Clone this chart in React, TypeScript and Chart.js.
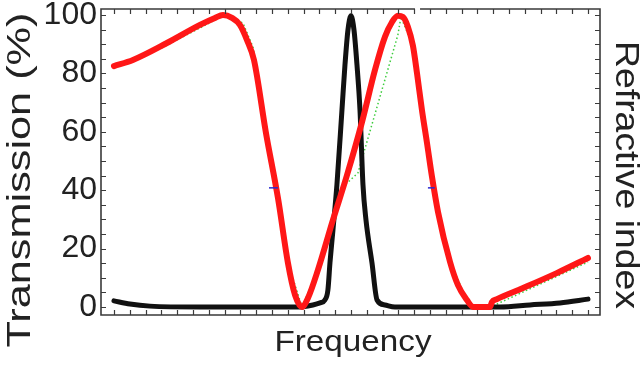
import React, { useEffect, useRef } from "react";
import { Chart, registerables } from "chart.js";
Chart.register(...registerables);

// Transmission (black)
const transX = [0, 1.01, 2.28, 5.44, 11.77, 12.59, 13.04, 13.35, 13.54, 13.67, 13.86, 14.11, 14.43, 14.62, 14.81, 15.0, 15.19, 15.38, 15.57, 15.76, 15.95, 16.33, 16.65, 17.15, 17.78, 24.43, 26.33, 28.23, 30.0];
const transY = [2.1, 1.0, 0.3, 0, 0, 0.7, 1.4, 2.4, 5.8, 15.1, 26.4, 41.8, 67.5, 82.9, 94.9, 99.7, 94.9, 82.9, 67.5, 41.8, 29.8, 15.1, 2.4, 0.7, 0, 0, 0.7, 1.4, 2.7];

// Refractive index (red)
const indexX = [0, 1.2, 3.35, 5.44, 6.39, 6.9, 7.47, 7.97, 8.42, 8.86, 9.62, 10.38, 11.01, 11.46, 11.9, 12.28, 12.91, 13.86, 14.75, 15.7, 16.52, 17.15, 17.6, 17.97, 18.29, 18.6, 18.92, 19.18, 19.49, 19.81, 20.13, 20.51, 21.27, 21.77, 22.34, 22.72, 23.8, 23.92, 24.24, 25.89, 28.02, 30.0];
const indexY = [82.5, 84.6, 90.4, 96.6, 99.0, 100, 99.0, 96.6, 91.4, 84.6, 59.6, 37.3, 15.1, 4.1, 0, 3.1, 12.7, 29.8, 45.2, 63.4, 81.2, 92.5, 97.6, 99.7, 99.3, 96.0, 89.5, 80.0, 67.5, 56.2, 44.5, 32.5, 15.4, 7.5, 2.4, 0, 0, 1.7, 2.7, 6.5, 11.6, 16.8];

// Coarse guide (green dotted)
const guideX = [0, 2.91, 6.9, 8.16, 8.8, 9.62, 10.38, 11.01, 11.9, 12.91, 13.86, 14.62, 15.44, 17.97, 18.16, 18.92, 20.13, 20.51, 21.27, 22.34, 22.72, 24.11, 30.0];
const guideY = [81.8, 88.4, 99.7, 97.3, 89.0, 59.6, 37.3, 15.1, 0, 12.7, 29.8, 41.8, 45.9, 93.2, 99.3, 89.5, 44.5, 32.5, 15.4, 2.4, 0, 0.7, 15.4];

// Small blue markers
const markerAX = [9.81, 10.38];
const markerBX = [19.87, 20.3];
const markerY = [40.8, 40.8];

const yTickLabels = [0, 20, 40, 60, 80, 100];
const yMinorTicks = [0, 5, 10, 15, 20, 25, 30, 35, 40, 45, 50, 55, 60, 65, 70, 75, 80, 85, 90, 95, 100];
const xMinorTicks = [0, 1, 2, 3, 4, 5, 6, 7, 8, 9, 10, 11, 12, 13, 14, 15, 16, 17, 18, 19, 20, 21, 22, 23, 24, 25, 26, 27, 28, 29, 30];
// small break visible in the top border of the original
const topGap = [19.05, 19.37];

const xTitle = "Frequency";
const yTitle = "Transmission (%)";
const y2Title = "Refractive index";

const FONT = "'Liberation Sans', Arial, Helvetica, sans-serif";

const pts = (xs: number[], ys: number[]) => xs.map((x, i) => ({ x, y: ys[i] }));

function drawFitted(ctx: CanvasRenderingContext2D, text: string, cx: number, cy: number, rot: number, size: number, len: number) {
  ctx.save();
  ctx.font = `${size}px ${FONT}`;
  const w = ctx.measureText(text).width;
  ctx.translate(cx, cy);
  ctx.rotate(rot);
  ctx.scale(len / w, 1);
  ctx.textAlign = "center";
  ctx.textBaseline = "middle";
  ctx.fillText(text, 0, 0);
  ctx.restore();
}

const framePlugin = {
  id: "frame",
  afterDatasetsDraw(chart: any) {
    const { ctx, chartArea: a, scales } = chart;
    const xs = scales.x;
    const ys = scales.y;
    ctx.save();
    ctx.strokeStyle = "#3a3a3a";
    ctx.lineWidth = 1.2;
    ctx.beginPath();
    for (const v of xMinorTicks) {
      const px = Math.round(xs.getPixelForValue(v)) + 0.5;
      ctx.moveTo(px, a.bottom);
      ctx.lineTo(px, a.bottom - 5);
      ctx.moveTo(px, a.top);
      ctx.lineTo(px, a.top + 5);
    }
    for (const v of yMinorTicks) {
      const py = Math.round(ys.getPixelForValue(v)) + 0.5;
      ctx.moveTo(a.left, py);
      ctx.lineTo(a.left + 5, py);
      ctx.moveTo(a.right, py);
      ctx.lineTo(a.right - 5, py);
    }
    ctx.stroke();
    ctx.lineWidth = 1.6;
    const g0 = xs.getPixelForValue(topGap[0]);
    const g1 = xs.getPixelForValue(topGap[1]);
    ctx.beginPath();
    ctx.moveTo(g0, a.top);
    ctx.lineTo(a.left, a.top);
    ctx.lineTo(a.left, a.bottom);
    ctx.lineTo(a.right, a.bottom);
    ctx.lineTo(a.right, a.top);
    ctx.lineTo(g1, a.top);
    ctx.stroke();
    ctx.fillStyle = "#222";
    drawFitted(ctx, yTitle, 21, 180, -Math.PI / 2, 33, 335);
    drawFitted(ctx, y2Title, 625, 175, Math.PI / 2, 33, 268);
    drawFitted(ctx, xTitle, 353, 343, 0, 30, 157);
    ctx.restore();
  },
};

export default function App() {
  const ref = useRef<HTMLCanvasElement | null>(null);
  useEffect(() => {
    if (!ref.current) return;
    const chart = new Chart(ref.current, {
      type: "line",
      data: {
        datasets: [
          {
            label: "guide",
            data: pts(guideX, guideY),
            borderColor: "#3ccc3c",
            borderWidth: 1.5,
            borderDash: [1.5, 2.5],
            pointRadius: 0,
            tension: 0,
            order: 4,
          },
          {
            label: "Transmission",
            data: pts(transX, transY),
            borderColor: "#111111",
            borderWidth: 5,
            pointRadius: 0,
            cubicInterpolationMode: "monotone",
            borderJoinStyle: "round",
            borderCapStyle: "round",
            order: 3,
          },
          {
            label: "Refractive index",
            data: pts(indexX, indexY),
            borderColor: "#ff1717",
            borderWidth: 6,
            pointRadius: 0,
            cubicInterpolationMode: "monotone",
            borderJoinStyle: "round",
            borderCapStyle: "round",
            order: 2,
          },
          {
            label: "markerA",
            data: pts(markerAX, markerY),
            borderColor: "#2a2ad0",
            borderWidth: 1.5,
            pointRadius: 0,
            order: 1,
          },
          {
            label: "markerB",
            data: pts(markerBX, markerY),
            borderColor: "#2a2ad0",
            borderWidth: 1.5,
            pointRadius: 0,
            order: 1,
          },
        ],
      },
      options: {
        animation: false,
        responsive: false,
        maintainAspectRatio: false,
        layout: { padding: { top: 9, right: 43, left: 0, bottom: 0 } },
        plugins: { legend: { display: false }, tooltip: { enabled: false } },
        scales: {
          x: {
            type: "linear",
            min: -0.82,
            max: 30.76,
            grid: { display: false, drawTicks: false },
            border: { display: false },
            ticks: { display: false },
            afterFit: (s: any) => {
              s.height = 50;
              s.paddingLeft = 0;
              s.paddingRight = 0;
            },
          },
          y: {
            type: "linear",
            min: -2.74,
            max: 102.05,
            grid: { display: false, drawTicks: false },
            border: { display: false },
            afterBuildTicks: (s: any) => {
              s.ticks = yTickLabels.map((v) => ({ value: v }));
            },
            ticks: {
              color: "#222",
              padding: 4,
              font: { size: 32, family: FONT },
              callback: (v: any) => String(v),
            },
            afterFit: (s: any) => {
              s.width = 101;
              s.paddingTop = 0;
              s.paddingBottom = 0;
            },
          },
        },
      },
      plugins: [framePlugin],
    } as any);
    return () => chart.destroy();
  }, []);
  return (
    <div style={{ position: "fixed", left: 0, top: 0, width: 643, height: 365, background: "#fff" }}>
      <canvas ref={ref} width={643} height={365} style={{ display: "block" }} />
    </div>
  );
}
